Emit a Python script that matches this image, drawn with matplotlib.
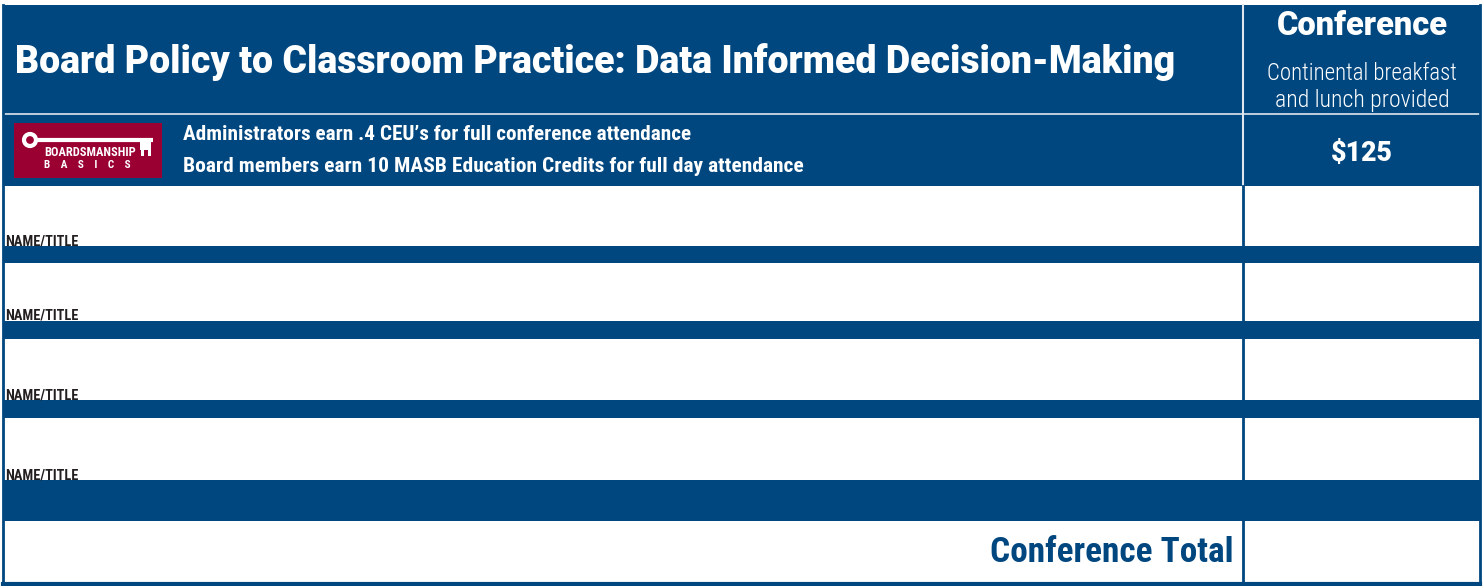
"""Registration form block: board policy conference (recreated as a matplotlib figure)."""

import matplotlib

matplotlib.use("Agg")

import matplotlib.pyplot as plt  # noqa: E402
from matplotlib import font_manager  # noqa: E402
from matplotlib.patches import Rectangle, Circle  # noqa: E402

# ---- content ---------------------------------------------------------------
TITLE = "Board Policy to Classroom Practice: Data Informed Decision-Making"
COL_TITLE = "Conference"
COL_NOTE = ["Continental breakfast", "and lunch provided"]
CREDITS = [
    "Administrators earn .4 CEU\u2019s for full conference attendance",
    "Board members earn 10 MASB Education Credits for full day attendance",
]
PRICE = "$125"
ROW_LABELS = ["NAME/TITLE", "NAME/TITLE", "NAME/TITLE", "NAME/TITLE"]
TOTAL_LABEL = "Conference Total"
LOGO_TOP = "BOARDSMANSHIP"
LOGO_BOTTOM = "B    A    S    I    C    S"

BLUE = "#00467f"
MAROON = "#9b0033"
DARK = "#231f20"

W, H = 1483, 586

_names = {f.name for f in font_manager.fontManager.ttflist}
NARROW = next((n for n in ("Roboto Condensed", "Liberation Sans Narrow",
                           "DejaVu Sans Condensed") if n in _names), "DejaVu Sans")
HEAVY = next((n for n in ("Roboto", "Lato", "DejaVu Sans") if n in _names),
             "DejaVu Sans")

fig = plt.figure(figsize=(W / 100, H / 100), dpi=100)
ax = fig.add_axes([0, 0, 1, 1])
ax.set_xlim(0, W)
ax.set_ylim(H, 0)
ax.axis("off")
renderer = fig.canvas.get_renderer()


def fit_text(x, y, s, width, size=20, **kw):
    """Place text and rescale its font so it spans ``width`` pixels."""
    t = ax.text(x, y, s, fontsize=size, **kw)
    w = t.get_window_extent(renderer).width
    t.set_fontsize(size * width / w)
    return t


def rect(x0, y0, x1, y1, **kw):
    ax.add_patch(Rectangle((x0, y0), x1 - x0, y1 - y0, **kw))


LEFT, RIGHT, SPLIT = 3, 1480, 1243

# header block
rect(LEFT, 5, RIGHT, 186, color=BLUE, lw=0)
ax.plot([LEFT, RIGHT], [113.5, 113.5], color="#dfe6ee", lw=1.2)
ax.plot([SPLIT, SPLIT], [5, 186], color="#dfe6ee", lw=1.5)

fit_text(15, 62, TITLE, 1163, color="white", fontweight=900, family=HEAVY,
         va="center")
fit_text(1362, 26, COL_TITLE, 172, color="white", fontweight=900,
         family=HEAVY, ha="center", va="center")
for yy, line, wd in zip([73, 100], COL_NOTE, [190, 174]):
    fit_text(1362, yy, line, wd, color="white", fontweight="light",
             ha="center", va="center", family=NARROW)
fit_text(1362, 153, PRICE, 62, color="white", fontweight=900, family=HEAVY,
         ha="center", va="center")
for yy, line, wd in zip([135, 167], CREDITS, [508, 618]):
    fit_text(183, yy, line, wd, color="white", fontweight="bold",
             va="center", family=NARROW)

# logo
rect(14, 123, 162, 178, color=MAROON, lw=0)
ax.add_patch(Circle((30, 140), 6, fill=False, ec="white", lw=3))
ax.plot([37, 153], [140, 140], color="white", lw=3, solid_capstyle="butt")
rect(140, 140, 151, 150, color="white", lw=0)
rect(141, 150, 143.5, 156, color="white", lw=0)
rect(148, 150, 150.5, 156, color="white", lw=0)
fit_text(44, 152, LOGO_TOP, 92, color="white", fontweight="bold",
         va="center", family=NARROW)
ax.text(44, 165, LOGO_BOTTOM, color="white", fontweight="bold", fontsize=8,
        va="center", family=NARROW)

# name rows with the blue bands below each
row_bots = [246, 321, 400, 480]
band_bots = [263, 339, 418, 521]
for bot, bb, label in zip(row_bots, band_bots, ROW_LABELS):
    rect(LEFT, bot, RIGHT, bb, color=BLUE, lw=0)
    fit_text(5, bot - 1, label, 73, color=DARK, fontweight="bold",
             va="baseline", family=NARROW)

# total row
fit_text(1233, 553, TOTAL_LABEL, 243, color=BLUE, fontweight="bold",
         ha="right", va="center", family=NARROW)

# frame and column divider
ax.plot([SPLIT, SPLIT], [186, 583], color=BLUE, lw=2)
ax.plot([LEFT, LEFT], [5, 584], color=BLUE, lw=2)
ax.plot([RIGHT, RIGHT], [5, 584], color=BLUE, lw=2)
ax.plot([LEFT, RIGHT], [583.5, 583.5], color=BLUE, lw=3)

fig.savefig("out.png", dpi=100)
